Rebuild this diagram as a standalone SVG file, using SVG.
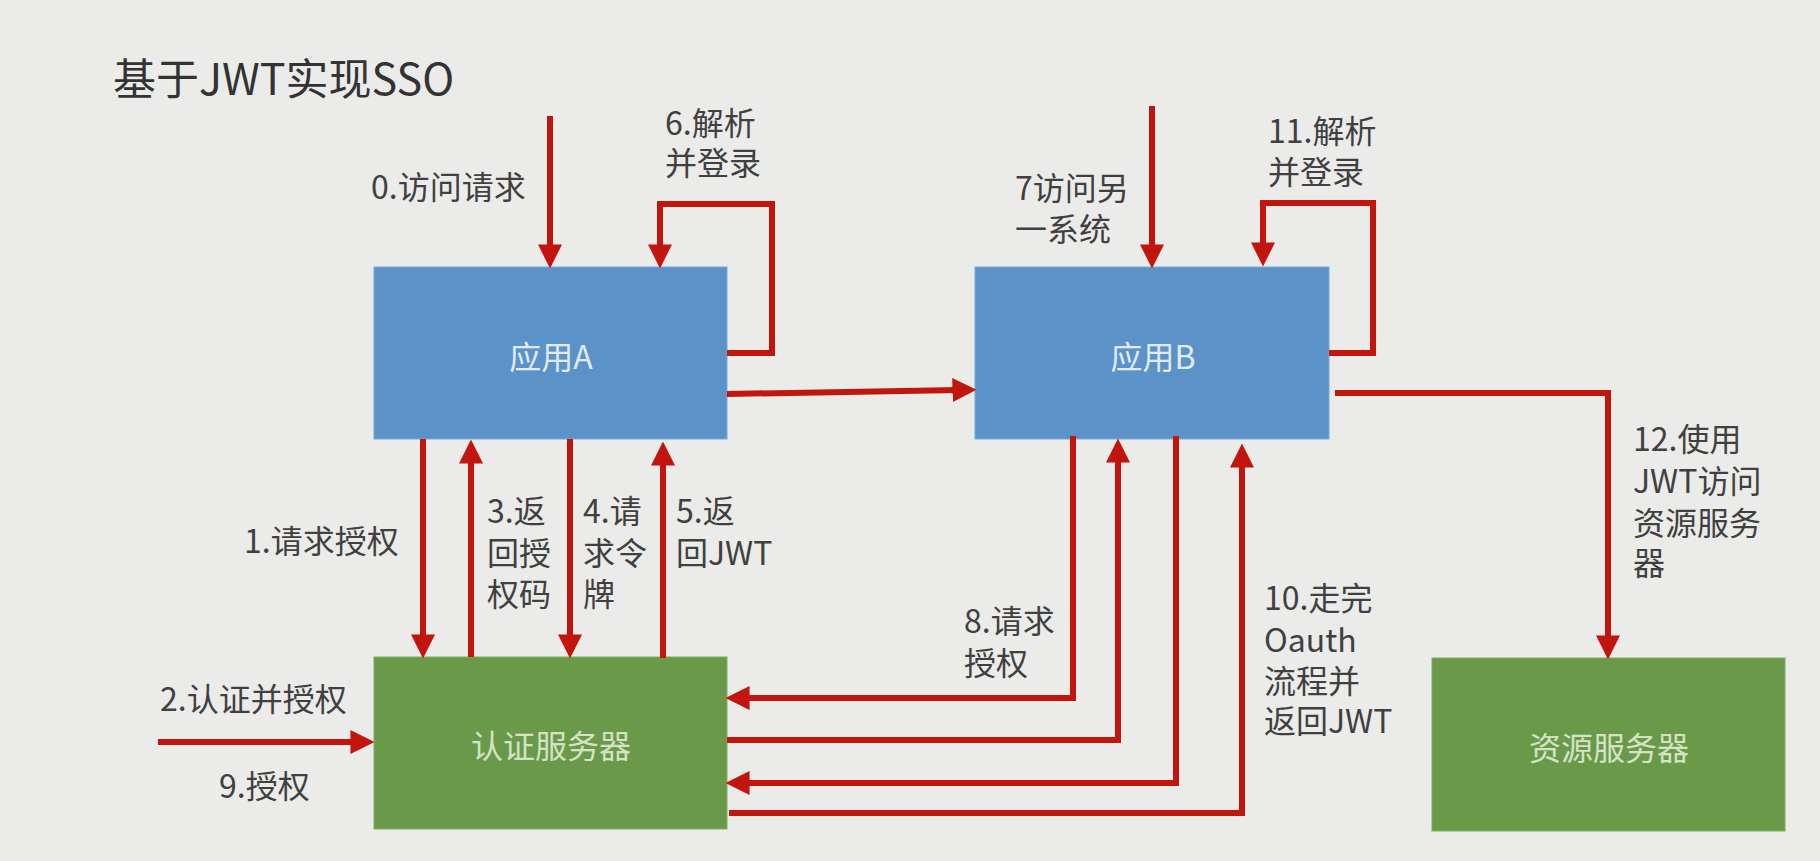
<svg xmlns="http://www.w3.org/2000/svg" width="1820" height="861" viewBox="0 0 1820 861">
<defs>
<style>
.bg{fill:#ebebe9}
.lbl{font-family:"Noto Sans CJK SC","Noto Sans",sans-serif;font-size:32px;fill:#404040}
.title{font-family:"Noto Sans CJK SC","Noto Sans",sans-serif;font-size:43px;fill:#333333}
.blue{fill:#5b92c8;stroke:#7aa9d6;stroke-width:1}
.green{fill:#6a994a;stroke:#7fae5e;stroke-width:1}
.tb{font-family:"Noto Sans CJK SC","Noto Sans",sans-serif;font-size:32px;fill:#e2ebf5;text-anchor:middle}
.tg{font-family:"Noto Sans CJK SC","Noto Sans",sans-serif;font-size:32px;fill:#d3e3c4;text-anchor:middle}
.ar{fill:none;stroke:#c1150d;stroke-width:6;stroke-linejoin:miter;marker-end:url(#ah)}
</style>
<marker id="ah" markerUnits="userSpaceOnUse" markerWidth="24" markerHeight="24" viewBox="0 0 22 22" refX="6" refY="11" orient="auto">
<path d="M0,0 L22,11 L0,22 z" fill="#c1150d"/>
</marker>
</defs>
<rect class="bg" x="0" y="0" width="1820" height="861"/>
<text class="title" x="113" y="95">基于JWT实现SSO</text>

<g id="appA">
<rect class="blue" x="374" y="267" width="353" height="172"/>
<text class="tb" x="551" y="369">应用A</text>
</g>
<g id="appB">
<rect class="blue" x="975" y="267" width="354" height="172"/>
<text class="tb" x="1153" y="369">应用B</text>
</g>
<g id="authServer">
<rect class="green" x="374" y="657" width="353" height="172"/>
<text class="tg" x="551" y="758">认证服务器</text>
</g>
<g id="resourceServer">
<rect class="green" x="1432" y="658" width="353" height="173"/>
<text class="tg" x="1609" y="760">资源服务器</text>
</g>

<g id="connectors">
<path class="ar" d="M550,116 V251"/>
<path class="ar" d="M727,353 H772 V204 H660 V251"/>
<path class="ar" d="M1152,106 V251"/>
<path class="ar" d="M1329,353 H1373 V203 H1263 V249"/>
<path class="ar" d="M727,394 L959,390"/>
<path class="ar" d="M423,439 V641"/>
<path class="ar" d="M471,657 V457"/>
<path class="ar" d="M570,439 V641"/>
<path class="ar" d="M663,658 V459"/>
<path class="ar" d="M158,742 H357"/>
<path class="ar" d="M1073,436 V698 H743"/>
<path class="ar" d="M727,740 H1118 V456"/>
<path class="ar" d="M1176,436 V783 H743"/>
<path class="ar" d="M729,813 H1242 V461"/>
<path class="ar" d="M1335,393 H1608 V642"/>
</g>

<g id="labels">
<text class="lbl" x="371" y="199">0.访问请求</text>
<text class="lbl" x="665" y="135">6.解析<tspan x="665" dy="40">并登录</tspan></text>
<text class="lbl" x="1015" y="200">7访问另<tspan x="1015" dy="41">一系统</tspan></text>
<text class="lbl" x="1268" y="143">11.解析<tspan x="1268" dy="41">并登录</tspan></text>
<text class="lbl" x="244" y="553">1.请求授权</text>
<text class="lbl" x="487" y="523">3.返<tspan x="487" dy="42">回授</tspan><tspan x="487" dy="41">权码</tspan></text>
<text class="lbl" x="583" y="523">4.请<tspan x="583" dy="42">求令</tspan><tspan x="583" dy="41">牌</tspan></text>
<text class="lbl" x="676" y="523">5.返<tspan x="676" dy="42">回JWT</tspan></text>
<text class="lbl" x="160" y="711">2.认证并授权</text>
<text class="lbl" x="219" y="798">9.授权</text>
<text class="lbl" x="964" y="633">8.请求<tspan x="964" dy="42">授权</tspan></text>
<text class="lbl" x="1264" y="610">10.走完<tspan x="1264" dy="42">Oauth</tspan><tspan x="1264" dy="41">流程并</tspan><tspan x="1264" dy="40">返回JWT</tspan></text>
<text class="lbl" x="1633" y="451">12.使用<tspan x="1633" dy="42">JWT访问</tspan><tspan x="1633" dy="42">资源服务</tspan><tspan x="1633" dy="40">器</tspan></text>
</g>
</svg>
